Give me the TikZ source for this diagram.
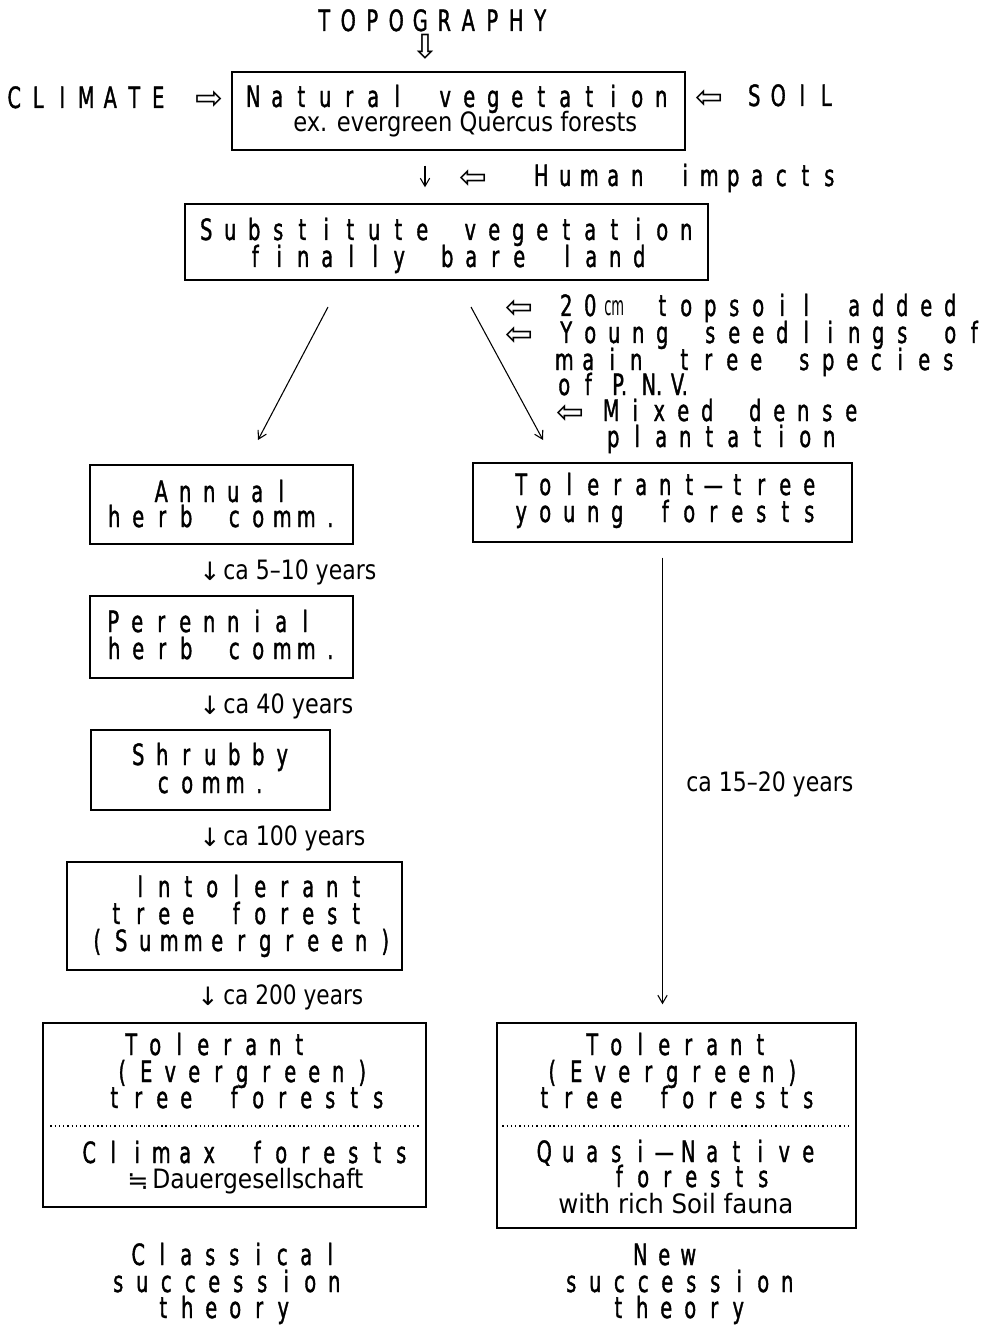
\documentclass[tikz,border=0pt]{standalone}
\usepackage{fontspec}
\usepackage{graphicx}
\usetikzlibrary{arrows.meta,calc}
\newfontfamily\cellfamily[FakeStretch=0.66,FakeBold=1.2]{DejaVu Sans}
\newfontfamily\smallfamily{DejaVu Sans}
\newfontfamily\symfamily{DejaVu Sans}
\newcommand\bigf{\cellfamily\fontsize{22}{23}\selectfont}
\newcommand\smallf{\smallfamily\fontsize{20}{21}\selectfont}
\newcommand\symf{\symfamily\fontsize{25}{25}\selectfont}
\newcommand\arrf{\symfamily\fontsize{19}{20}\selectfont}
\newlength\pxl \setlength\pxl{0.75pt}
\newcommand\fitw[2]{\resizebox{#1\pxl}{\height}{#2}}
\newcommand\cmcell{\resizebox{15pt}{\height}{\smallf cm}}
\ExplSyntaxOn
\NewDocumentCommand\cells{m}{\tl_map_inline:nn{#1}{\makebox[18pt][c]{##1}}}
\ExplSyntaxOff
\begin{document}
\begin{tikzpicture}[x=0.75pt,y=-0.75pt,
  box/.style={draw, line width=1.1pt, inner sep=0pt},
  bsz/.style 2 args={minimum width=#1*0.75pt, minimum height=#2*0.75pt},
  bt/.style={inner sep=0pt, anchor=base west, font=\bigf},
  st/.style={inner sep=0pt, anchor=base west, font=\smallf},
  sy/.style={inner sep=0pt, font=\symf, text height=5pt, text depth=5pt, yshift=-8.3pt},
  ya/.style={inner sep=0pt, font=\arrf},
  arr/.style={-{Straight Barb[length=6pt,width=7pt]}, line width=0.8pt},
  dotl/.style={line width=1pt, dash pattern=on 1pt off 2.2pt}]
\fill[white] (0,0) rectangle (982,1326);
\useasboundingbox (0,0) rectangle (982,1326);

% top
\node[bt] (ttopo) at (312,31) {\cells{TOPOGRAPHY}};
\node[sy] (stopo) at (425,47) {⇩};
\node[bt] (tclim) at (2,108) {\cells{CLIMATE}};
\node[sy] (sclim) at (209,98) {⇨};
\node[sy] (ssoil) at (709,97) {⇦};
\node[bt] (tsoil) at (742,106) {\cells{SOIL}};

% natural vegetation
\node[box, bsz={453}{78}] (nat) at (458.5,111) {};
\node[bt] (tnat1) at (241,107) {\cells{Natural~vegetation}};
\node[st] (tnat2) at (293,132) {\fitw{344}{ex. evergreen Quercus forests}};

\coordinate (axis) at (425,0);
\node[sy] (shum) at (473,177) {⇦};
\node[bt] (thum) at (529,186) {\cells{Human~impacts}};

% substitute
\node[box, bsz={523}{76}] (sub) at (446.5,242) {};
\node[bt] (tsub1) at (194,240) {\cells{Substitute~vegetation}};
\node[bt] (tsub2) at (243,267) {\cells{finally~bare~land}};
\draw[arr, shorten <=15*0.75pt, shorten >=16*0.75pt] (nat.south -| axis) -- (sub.north -| axis);

% right-hand notes
\node[sy] (sr1) at (519,307) {⇦};
\node[bt] (tr1) at (554,316) {\cells{20{\cmcell}~topsoil~added}};
\node[sy] (sr2) at (519,334) {⇦};
\node[bt] (tr2) at (554,343) {\cells{Young~seedlings~of}};
\node[bt] (tr3) at (552,370) {\cells{main~tree~species}};
\node[bt] (tr4) at (552,395) {\cells{of}\hspace{9pt}\makebox[22pt][l]{P.}\makebox[22pt][l]{N.}V.};
\node[sy] (sr5) at (570,412) {⇦};
\node[bt] (tr5) at (599,421) {\cells{Mixed~dense}};
\node[bt] (tr6) at (601,447) {\cells{plantation}};

% diagonal arrows
\coordinate (d1a) at (328,307);
\coordinate (d1b) at (258,440);
\coordinate (d2a) at (471,307);
\coordinate (d2b) at (543,440);
\draw[arr] (d1a) -- (d1b);
\draw[arr] (d2a) -- (d2b);

% classical column
\node[box, bsz={263}{79}] (ann) at (221.5,504.5) {};
\node[bt] (tann1) at (149,502) {\cells{Annual}};
\node[bt] (tann2) at (102,527) {\cells{herb~comm.}};
\node[ya] (sy1) at (210,571) {↓};
\node[st] (ty1) at (223,579) {\fitw{153}{ca 5–10 years}};

\node[box, bsz={263}{82}] (per) at (221.5,637) {};
\node[bt] (tper1) at (101,632) {\cells{Perennial}};
\node[bt] (tper2) at (102,659) {\cells{herb~comm.}};
\node[ya] (sy2) at (210,705) {↓};
\node[st] (ty2) at (223,713) {\fitw{130}{ca 40 years}};

\node[box, bsz={239}{80}] (shr) at (210.5,770) {};
\node[bt] (tshr1) at (126,765) {\cells{Shrubby}};
\node[bt] (tshr2) at (151,793) {\cells{comm.}};
\node[ya] (sy3) at (210,837) {↓};
\node[st] (ty3) at (223,845) {\fitw{142}{ca 100 years}};

\node[box, bsz={335}{108}] (int) at (234.5,916) {};
\node[bt] (tint1) at (128,897) {\cells{Intolerant}};
\node[bt] (tint2) at (104,924) {\cells{tree~forest}};
\node[bt] (tint3) at (85,951) {\cells{(Summergreen)}};
\node[ya] (sy4) at (208,996) {↓};
\node[st] (ty4) at (223,1004) {\fitw{140}{ca 200 years}};

\node[box, bsz={383}{184}] (lb) at (234.5,1115) {};
\node[bt] (tlb1) at (119,1055) {\cells{Tolerant}};
\node[bt] (tlb2) at (110,1082) {\cells{(Evergreen)}};
\node[bt] (tlb3) at (102,1108) {\cells{tree~forests}};
\draw[dotl] ($(lb.west)+(8,11)$) -- ($(lb.east)+(-6,11)$);
\node[bt] (tlb4) at (77,1163) {\cells{Climax~forests}};
\node[ya] (slb5) at (138,1182) {≒};
\node[st] (tlb5) at (152,1188) {\fitw{211}{Dauergesellschaft}};

% new column
\node[box, bsz={379}{79}] (tol) at (662.5,502.5) {};
\node[bt] (ttol1) at (509,495) {\cells{Tolerant—tree}};
\node[bt] (ttol2) at (509,522) {\cells{young~forests}};

\node[box, bsz={359}{205}] (rb) at (676.5,1125.5) {};
\node[bt] (trb1) at (580,1055) {\cells{Tolerant}};
\node[bt] (trb2) at (540,1082) {\cells{(Evergreen)}};
\node[bt] (trb3) at (532,1108) {\cells{tree~forests}};
\draw[dotl] ($(rb.west)+(6,0.5)$) -- ($(rb.east)+(-6,0.5)$);
\node[bt] (trb4) at (532,1162) {\cells{Quasi—Native}};
\node[bt] (trb5) at (607,1187) {\cells{forests}};
\node[st] (trb6) at (558,1213) {\fitw{235}{with rich Soil fauna}};

\draw[arr, shorten <=15*0.75pt, shorten >=18*0.75pt] (tol.south -| tol.center) -- (rb.north -| tol.center);
\node[st] (ty5) at (686,791) {\fitw{167}{ca 15–20 years}};

% captions
\node[bt] (tc1) at (126,1265) {\cells{Classical}};
\node[bt] (tc2) at (106,1292) {\cells{succession}};
\node[bt] (tc3) at (151,1318) {\cells{theory}};
\node[bt] (tn1) at (628,1265) {\cells{New}};
\node[bt] (tn2) at (559,1292) {\cells{succession}};
\node[bt] (tn3) at (606,1318) {\cells{theory}};
\end{tikzpicture}
\end{document}
